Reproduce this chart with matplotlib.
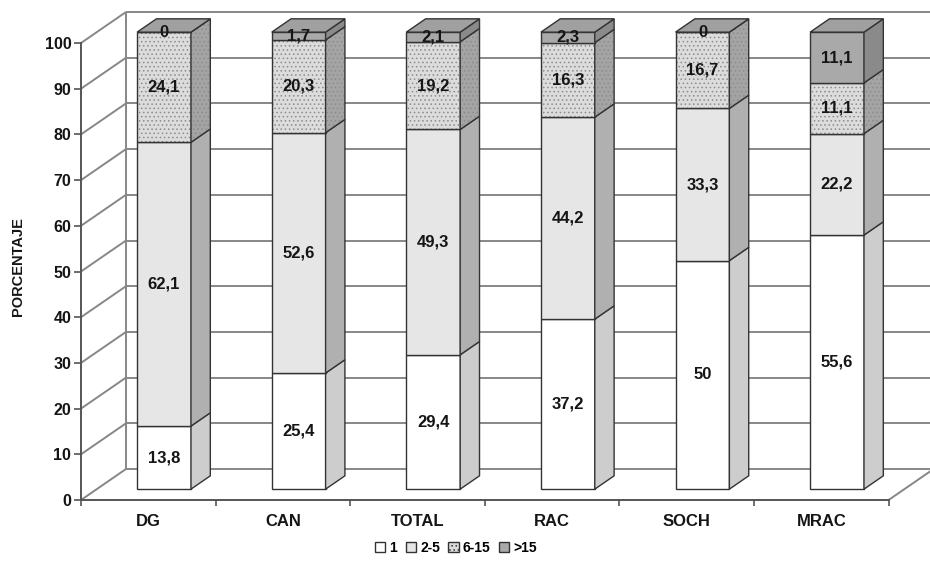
import numpy as np
import matplotlib
matplotlib.use('Agg')
import matplotlib.pyplot as plt
from matplotlib.patches import Polygon, Patch

plt.rcParams['font.family'] = ['Liberation Sans', 'DejaVu Sans']
plt.rcParams['hatch.linewidth'] = 0.6

# data: percentage of each group per category
categories = ['DG', 'CAN', 'TOTAL', 'RAC', 'SOCH', 'MRAC']
series_names = ['1', '2-5', '6-15', '>15']
s_1 = [13.8, 25.4, 29.4, 37.2, 50, 55.6]
s_2_5 = [62.1, 52.6, 49.3, 44.2, 33.3, 22.2]
s_6_15 = [24.1, 20.3, 19.2, 16.3, 16.7, 11.1]
s_15 = [0, 1.7, 2.1, 2.3, 0, 11.1]
y_ticks = list(range(0, 101, 10))

series = [s_1, s_2_5, s_6_15, s_15]
front_colors = ['#ffffff', '#e6e6e6', '#dcdcdc', '#a9a9a9']
side_colors = ['#cdcdcd', '#b0b0b0', '#a4a4a4', '#8a8a8a']
hatches = [None, None, '....', None]
top_color = '#a0a0a0'
edge = '#333333'

# oblique 3d look: depth vector in data units
DX = 45 / 134.6
DY = 31 / 4.57
D_FRONT = 0.35   # bar front face position inside the depth
D_BAR = 0.43     # bar thickness along the depth
W = 0.4          # bar front width

fig = plt.figure(figsize=(9.3, 5.65), dpi=100)
ax = fig.add_axes([0, 0, 1, 1])
ax.set_xlim(-148.3 / 134.6, (930 - 148.3) / 134.6)
ax.set_ylim(-(565 - 500) / 4.57, 500 / 4.57)

n = len(categories)
x_lo, x_hi = -0.5, n - 0.5

# walls and gridlines
grid_kw = dict(color='#878787', lw=1.4, zorder=1, solid_capstyle='butt')
for t in y_ticks:
    ax.plot([x_lo, x_lo + DX], [t, t + DY], **grid_kw)
    ax.plot([x_lo + DX, x_hi + DX], [t + DY, t + DY], **grid_kw)
ax.plot([x_lo + DX, x_lo + DX], [DY, 100 + DY], **grid_kw)
ax.plot([x_hi, x_hi + DX], [0, DY], **grid_kw)


def fmt(v):
    if float(v).is_integer():
        return str(int(v))
    return f'{v:.1f}'.replace('.', ',')


def face(pts, fc, hatch, z):
    if hatch:
        ax.add_patch(Polygon(pts, closed=True, facecolor=fc, edgecolor='#8c8c8c',
                             lw=0, hatch=hatch, zorder=z))
        ax.add_patch(Polygon(pts, closed=True, fill=False, edgecolor=edge,
                             lw=1, zorder=z))
    else:
        ax.add_patch(Polygon(pts, closed=True, facecolor=fc, edgecolor=edge,
                             lw=1, zorder=z))


ox, oy = D_FRONT * DX, D_FRONT * DY
bx, by = D_BAR * DX, D_BAR * DY
for i in range(n):
    xl = i - W / 2 + ox
    xr = i + W / 2 + ox
    cum = 0
    for k, vals in enumerate(series):
        v = vals[i]
        y0, y1 = cum + oy, cum + v + oy
        face([(xl, y0), (xr, y0), (xr, y1), (xl, y1)], front_colors[k], hatches[k], 3)
        face([(xr, y0), (xr + bx, y0 + by), (xr + bx, y1 + by), (xr, y1)],
             side_colors[k], hatches[k], 3)
        ax.text(i + ox, (y0 + y1) / 2, fmt(v), ha='center', va='center',
                fontsize=12, fontweight='bold', color='#151515', zorder=6)
        cum += v
    yt = cum + oy
    face([(xl, yt), (xr, yt), (xr + bx, yt + by), (xl + bx, yt + by)], top_color, None, 4)

# axes
for s in ['top', 'right']:
    ax.spines[s].set_visible(False)
ax.spines['left'].set_position(('data', x_lo))
ax.spines['left'].set_bounds(0, 100)
ax.spines['bottom'].set_position(('data', 0))
ax.spines['bottom'].set_bounds(x_lo, x_hi)
for s in ['left', 'bottom']:
    ax.spines[s].set_color('#555555')
    ax.spines[s].set_linewidth(1.4)
    ax.spines[s].set_zorder(2)

ax.set_yticks(y_ticks)
ax.tick_params(axis='y', direction='out', length=5, width=1.2, color='#555555',
               pad=2, labelsize=11.5)
ax.set_xticks(range(n))
ax.set_xticklabels(categories)
ax.set_xticks(np.arange(x_lo, x_hi + 0.01, 1), minor=True)
ax.tick_params(axis='x', which='major', length=0, pad=10, labelsize=12)
ax.tick_params(axis='x', which='minor', direction='out', length=4, width=1.2,
               color='#555555')
for lab in ax.get_xticklabels() + ax.get_yticklabels():
    lab.set_fontweight('bold')
    lab.set_color('#151515')

fig.text(18 / 930, 1 - 267 / 565, 'PORCENTAJE', rotation=90, ha='center',
         va='center', fontsize=10.5, fontweight='bold', color='#151515')

handles = [Patch(facecolor=front_colors[k], edgecolor=edge, hatch=hatches[k])
           for k in range(len(series_names))]
fig.legend(handles, series_names, loc='center', bbox_to_anchor=(456 / 930, 1 - 548 / 565),
           ncol=4, frameon=False, handlelength=0.75, handleheight=0.75,
           handletextpad=0.3, columnspacing=0.6,
           prop={'weight': 'bold', 'size': 10})

fig.savefig('out.png', dpi=100)
